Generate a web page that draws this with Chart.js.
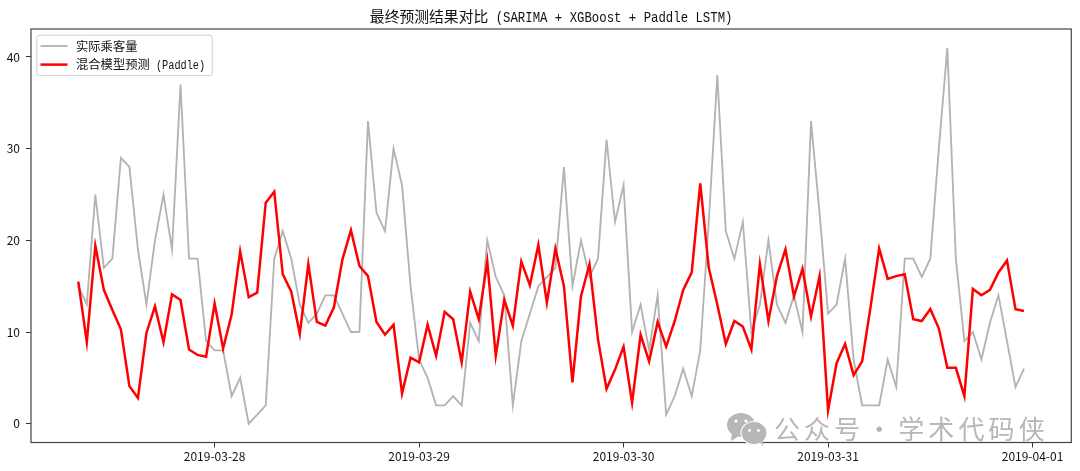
<!DOCTYPE html>
<html>
<head>
<meta charset="utf-8">
<title>最终预测结果对比</title>
<script src="https://cdn.jsdelivr.net/npm/chart.js@4"></script>
<style>
    html, body { margin: 0; padding: 0; background: #fff; }
    #wrap { position: relative; width: 1080px; height: 471px; overflow: hidden; }
    #chart { display: block; }
    #mark { position: absolute; left: 726px; top: 411px; }
    #mark-text {
        position: absolute; left: 774px; top: 409px; white-space: nowrap;
        font: 26px "Noto Sans CJK SC", sans-serif; letter-spacing: 4.1px; word-spacing: -8px; color: #b7b7b7; line-height: 38px;
    }
</style>
</head>
<body>
<div id="wrap">
    <canvas id="chart" width="1080" height="471"></canvas>
    <svg id="mark" width="44" height="36" viewBox="0 0 44 36">
        <ellipse cx="15" cy="14" rx="14" ry="12" fill="#b7b7b7"/>
        <path d="M6 21 L5 30 L13 25 Z" fill="#b7b7b7"/>
        <circle cx="10" cy="10" r="1.6" fill="#fff"/>
        <circle cx="20" cy="10" r="1.6" fill="#fff"/>
        <ellipse cx="28" cy="22" rx="13" ry="11.5" fill="#b7b7b7" stroke="#fff" stroke-width="1.2"/>
        <path d="M33 30 L37 35 L37 28 Z" fill="#b7b7b7"/>
        <circle cx="23.5" cy="19.5" r="1.4" fill="#fff"/>
        <circle cx="32.5" cy="19.5" r="1.4" fill="#fff"/>
    </svg>
    <div id="mark-text">公众号 · 学术代码侠</div>
</div>

<script>
// Hourly passengers, starting 2019-03-27 08:00
const actualPassengers = [
    15, 13, 25, 17, 18, 29, 28, 19, 13, 20, 25, 19, 37, 18, 18, 9,
    8, 8, 3, 5, 0, 1, 2, 18, 21, 18, 13, 11, 12, 14, 14, 12, 10, 10, 33, 23, 21, 30, 26, 15,
    7, 5, 2, 2, 3, 2, 11, 9, 20, 16, 14, 2, 9, 12, 15, 16, 17, 28, 15, 20, 16, 18, 31, 22,
    26, 10, 13, 8, 14, 1, 3, 6, 3, 8, 22, 38, 21, 18, 22, 10, 13, 20, 13, 11, 14, 10, 33, 23,
    12, 13, 18, 7, 2, 2, 2, 7, 4, 18, 18, 16, 18, 30, 41, 18, 9, 10, 7, 11, 14, 9, 4, 6
];
const hybridForecast = [
    15.5, 8.9, 19.4, 14.6, 12.4, 10.3, 4.1, 2.8, 9.9, 12.8, 8.9, 14.1, 13.5, 8.1, 7.5, 7.3,
    13.1, 8.2, 11.9, 18.8, 13.8, 14.3, 24.1, 25.3, 16.3, 14.4, 9.8, 17.4, 11.1, 10.7, 12.7, 17.9, 21.1, 17.2, 16.1, 11.1, 9.7, 10.8, 3.3, 7.2,
    6.7, 10.8, 7.4, 12.2, 11.4, 6.7, 14.4, 11.4, 17.7, 7.4, 13.5, 10.7, 17.7, 15.1, 19.5, 13.2, 19.1, 15, 4.5, 13.9, 17.4, 9.2, 3.8, 5.9,
    8.4, 2.3, 9.7, 6.8, 11.1, 8.4, 11.2, 14.6, 16.5, 26.2, 17, 13, 8.7, 11.2, 10.6, 8.1, 17.4, 11.2, 16.1, 19, 13.9, 16.9, 11.7, 16.1,
    1.45, 6.6, 8.7, 5.3, 6.8, 12.8, 19.1, 15.8, 16.1, 16.3, 11.4, 11.2, 12.5, 10.4, 6.1, 6.1, 3, 14.7, 14, 14.6, 16.5, 17.8, 12.5, 12.3
];
const xTickHours = [16, 40, 64, 88, 112];
const xTickLabels = ['2019-03-28', '2019-03-29', '2019-03-30', '2019-03-31', '2019-04-01'];
const yTickValues = [0, 10, 20, 30, 40];
const actualLabel = '实际乘客量';
const forecastLabel = '混合模型预测 (Paddle)';
const chartTitle = '最终预测结果对比 (SARIMA + XGBoost + Paddle LSTM)';

const CJK_FONT = '"Noto Sans CJK SC"';
const LATIN_FONT = '"Liberation Mono"';

function toPoints(values) {
    return values.map((y, hour) => ({ x: hour, y: y }));
}

// Chinese runs at full width, everything else squeezed to half an em per character
function mixedText(ctx, text, x, y, size, draw) {
    const runs = text.match(/[\u4e00-\u9fff]+|[^\u4e00-\u9fff]+/g);
    let cursor = x;
    runs.forEach(run => {
        if (/[\u4e00-\u9fff]/.test(run)) {
            ctx.font = `${size}px ${CJK_FONT}`;
            if (draw) ctx.fillText(run, cursor, y);
            cursor += ctx.measureText(run).width;
        } else {
            ctx.font = `${size}px ${LATIN_FONT}`;
            const squeeze = 0.5 / 0.6;
            if (draw) {
                ctx.save();
                ctx.translate(cursor, y);
                ctx.scale(squeeze, 1);
                ctx.fillText(run, 0, 0);
                ctx.restore();
            }
            cursor += ctx.measureText(run).width * squeeze;
        }
    });
    return cursor - x;
}

// Frame around the plot, the title and the legend box
const decorations = {
    id: 'decorations',
    afterDatasetsDraw(chart) {
        const ctx = chart.ctx;
        const area = chart.chartArea;

        ctx.save();
        ctx.strokeStyle = '#444';
        ctx.lineWidth = 1.2;
        ctx.strokeRect(area.left, area.top, area.right - area.left, area.bottom - area.top);

        ctx.fillStyle = '#111';
        ctx.textBaseline = 'alphabetic';
        const titleWidth = mixedText(ctx, chartTitle, 0, 0, 14.8, false);
        mixedText(ctx, chartTitle, (area.left + area.right) / 2 - titleWidth / 2, 22, 14.8, true);

        ctx.beginPath();
        ctx.roundRect(36.8, 35.2, 175.4, 40.4, 2.5);
        ctx.fillStyle = 'rgba(255,255,255,0.8)';
        ctx.fill();
        ctx.strokeStyle = '#d0d0d0';
        ctx.lineWidth = 1;
        ctx.stroke();

        chart.data.datasets.forEach((dataset, i) => {
            const rowY = 46 + i * 18.6;
            ctx.beginPath();
            ctx.moveTo(40.5, rowY);
            ctx.lineTo(67.5, rowY);
            ctx.strokeStyle = dataset.borderColor;
            ctx.lineWidth = dataset.borderWidth;
            ctx.stroke();
            ctx.fillStyle = '#111';
            mixedText(ctx, dataset.label, 76, rowY + 4.5, 12.3, true);
        });
        ctx.restore();
    }
};

new Chart(document.getElementById('chart').getContext('2d'), {
    type: 'line',
    data: {
        datasets: [
            {
                label: actualLabel,
                data: toPoints(actualPassengers),
                borderColor: '#b3b3b3',
                borderWidth: 1.85,
                pointRadius: 0,
                tension: 0,
                order: 2
            },
            {
                label: forecastLabel,
                data: toPoints(hybridForecast),
                borderColor: '#ff0000',
                borderWidth: 2.5,
                pointRadius: 0,
                tension: 0,
                order: 1
            }
        ]
    },
    options: {
        responsive: false,
        animation: false,
        layout: { padding: { left: 0, top: 29, right: 8.7, bottom: 0 } },
        plugins: {
            legend: { display: false },
            title: { display: false },
            tooltip: { enabled: false }
        },
        scales: {
            x: {
                type: 'linear',
                min: -5.55,
                max: 116.55,
                border: { display: false },
                grid: { drawOnChartArea: false, tickLength: 5, tickColor: '#333', tickWidth: 1 },
                afterBuildTicks: scale => { scale.ticks = xTickHours.map(v => ({ value: v })); },
                afterFit: scale => { scale.height = 28.5; },
                ticks: {
                    autoSkip: false,
                    maxRotation: 0,
                    padding: 2,
                    color: '#111',
                    font: { family: CJK_FONT, size: 12 },
                    callback: value => xTickLabels[xTickHours.indexOf(value)]
                }
            },
            y: {
                min: -2.05,
                max: 43.05,
                border: { display: false },
                grid: { drawOnChartArea: false, tickLength: 5, tickColor: '#333', tickWidth: 1 },
                afterBuildTicks: scale => { scale.ticks = yTickValues.map(v => ({ value: v })); },
                afterFit: scale => { scale.width = 31; },
                ticks: {
                    padding: 6,
                    color: '#111',
                    font: { family: CJK_FONT, size: 12 }
                }
            }
        }
    },
    plugins: [decorations]
});
</script>
</body>
</html>
